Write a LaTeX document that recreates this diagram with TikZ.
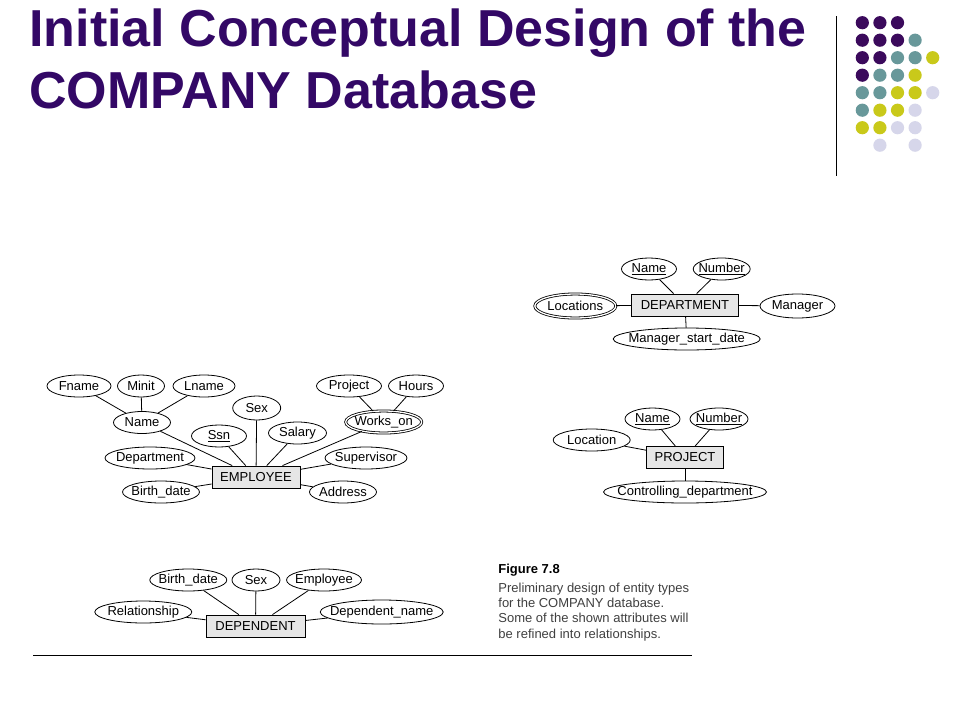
\documentclass[tikz,border=0pt]{standalone}
\usepackage{fontspec}
\setmainfont{Liberation Sans}
\usetikzlibrary{shapes.geometric}
\definecolor{titlepurple}{RGB}{51,8,102}
\definecolor{dotpurple}{RGB}{59,10,92}
\definecolor{dotteal}{RGB}{104,152,154}
\definecolor{dotyellow}{RGB}{201,201,26}
\definecolor{dotlilac}{RGB}{214,214,234}
\definecolor{boxgray}{RGB}{230,230,230}
\begin{document}
\begin{tikzpicture}[x=1pt, y=-1pt, line width=0.8pt,
        attr/.style={ellipse, draw, inner xsep=-40pt, inner ysep=0pt, minimum height=22pt,
            minimum width=#1, font=\fontsize{13}{15}\selectfont},
        multiattr/.style={attr=#1, double, double distance=1.3pt},
        entity/.style={draw, fill=boxgray, inner sep=0pt, minimum height=22pt,
            minimum width=#1, font=\fontsize{13}{15}\selectfont},
        heading/.style={anchor=base west, inner sep=0pt, text=titlepurple,
            font=\fontsize{52}{60}\selectfont\bfseries},
        caption/.style={anchor=base west, inner sep=0pt, text=black!75,
            font=\fontsize{13}{15}\selectfont}]
        \fill [white] (0, 0) rectangle (960, 720);
        \useasboundingbox (0, 0) rectangle (960, 720);
        \node [heading] (title1) at (29, 46.7) {Initial Conceptual Design of the};
        \node [heading] (title2) at (29, 108.3) {COMPANY Database};
        \draw [line width=1pt] (836.7, 16) -- (836.7, 176);
        \foreach \c/\r/\col in {0/0/dotpurple, 1/0/dotpurple, 2/0/dotpurple,
                0/1/dotpurple, 1/1/dotpurple, 2/1/dotpurple, 3/1/dotteal,
                0/2/dotpurple, 1/2/dotpurple, 2/2/dotteal, 3/2/dotteal, 4/2/dotyellow,
                0/3/dotpurple, 1/3/dotteal, 2/3/dotteal, 3/3/dotyellow,
                0/4/dotteal, 1/4/dotteal, 2/4/dotyellow, 3/4/dotyellow, 4/4/dotlilac,
                0/5/dotteal, 1/5/dotyellow, 2/5/dotyellow, 3/5/dotlilac,
                0/6/dotyellow, 1/6/dotyellow, 2/6/dotlilac, 3/6/dotlilac,
                1/7/dotlilac, 3/7/dotlilac}
            \fill [\col] (862.3 + 17.6*\c, 22.7 + 17.5*\r) circle (6.6pt);

        \node [entity=88pt] (emp) at (256, 477) {EMPLOYEE};
        \node [attr=64pt] (fname) at (79, 386) {Fname};
        \node [attr=47pt] (minit) at (141, 386) {Minit};
        \node [attr=62pt] (lname) at (204, 386) {Lname};
        \node [attr=57pt] (ename) at (142, 422.5) {Name};
        \node [attr=48pt, minimum height=24pt] (esex) at (256.7, 408) {Sex};
        \node [attr=55pt] (ssn) at (219, 436) {\underline{Ssn}};
        \node [attr=58pt] (salary) at (297.5, 433) {Salary};
        \node [attr=65pt] (eproject) at (349, 386) {Project};
        \node [attr=55pt] (hours) at (416, 386) {Hours};
        \node [multiattr=76pt] (workson) at (383.7, 422) {Works\_on};
        \node [attr=90pt] (edept) at (150, 458) {Department};
        \node [attr=82pt] (super) at (366, 458) {Supervisor};
        \node [attr=77pt] (ebdate) at (161, 492) {Birth\_date};
        \node [attr=67pt] (address) at (343, 492) {Address};
        \foreach \a/\b in {fname/ename, minit/ename, lname/ename, ename/emp, ssn/emp,
                esex/emp, salary/emp, workson/emp, edept/emp, super/emp, ebdate/emp,
                address/emp, eproject/workson, hours/workson}
            \draw (\a) -- (\b);

        \node [entity=107pt] (dept) at (685, 305) {DEPARTMENT};
        \node [attr=55pt] (dname) at (649, 269) {\underline{Name}};
        \node [attr=57pt] (dnumber) at (721.7, 269) {\underline{Number}};
        \node [multiattr=81pt, minimum height=24pt] (locations) at (575.3, 306) {Locations};
        \node [attr=75pt, minimum height=24pt] (manager) at (797.5, 306) {Manager};
        \node [attr=147pt] (mstart) at (686.7, 339) {Manager\_start\_date};
        \foreach \a/\b in {dname/dept, dnumber/dept, locations/dept, dept/manager, dept/mstart}
            \draw (\a) -- (\b);

        \node [entity=77pt] (proj) at (685, 457.5) {PROJECT};
        \node [attr=55pt] (pname) at (652.5, 419) {\underline{Name}};
        \node [attr=58pt] (pnumber) at (719, 419) {\underline{Number}};
        \node [attr=77pt] (location) at (591.7, 440) {Location};
        \node [attr=163pt] (ctrl) at (685, 492) {Controlling\_department};
        \foreach \a/\b in {pname/proj, pnumber/proj, location/proj, proj/ctrl}
            \draw (\a) -- (\b);

        \node [entity=99pt] (dep) at (255.5, 626) {DEPENDENT};
        \node [attr=77pt] (dbdate) at (188.3, 580) {Birth\_date};
        \node [attr=48pt] (dsex) at (256, 580) {Sex};
        \node [attr=75pt] (demp) at (324, 580) {Employee};
        \node [attr=97pt] (relship) at (143.3, 612) {Relationship};
        \node [attr=123pt, minimum height=24pt] (depname) at (381.7, 612) {Dependent\_name};
        \foreach \a/\b in {dbdate/dep, dsex/dep, demp/dep, relship/dep, dep/depname}
            \draw (\a) -- (\b);

        \draw (33, 655) -- (692, 655);
        \node [caption, text=black, font=\fontsize{13}{15}\selectfont\bfseries] (figno) at (498, 573.5) {Figure 7.8};
        \foreach \t [count=\i] in {Preliminary design of entity types, for the COMPANY database.,
                Some of the shown attributes will, be refined into relationships.}
            \node [caption] (cap\i) at (498, 577.6 + 15.1*\i) {\t};
    \end{tikzpicture}
\end{document}
